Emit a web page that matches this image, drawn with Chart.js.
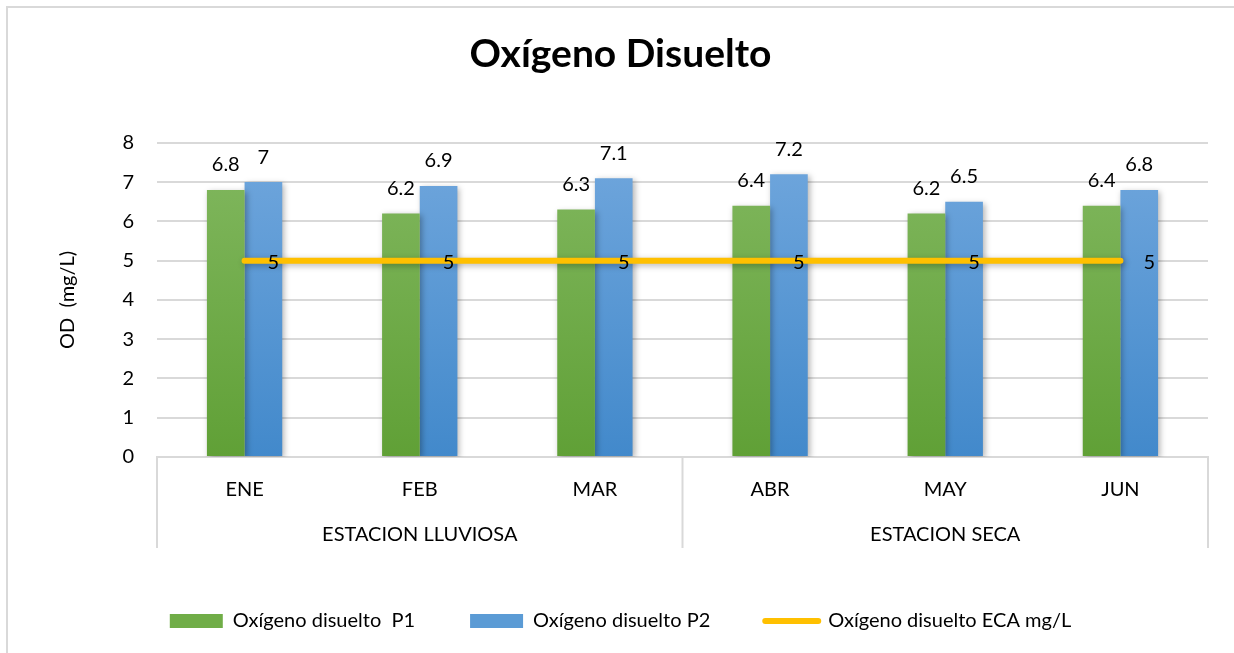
<!DOCTYPE html>
<html lang="es">
<head>
<meta charset="utf-8">
<title>Oxígeno Disuelto</title>
<script src="https://cdn.jsdelivr.net/npm/chart.js@4/dist/chart.umd.min.js"></script>
<style>
    html, body { margin: 0; padding: 0; background: #fff; }
    #wrap { position: relative; width: 1234px; height: 653px; }
</style>
</head>
<body>
<div id="wrap"><canvas id="chart-od"></canvas></div>
<script>
// datos
const meses = ['ENE', 'FEB', 'MAR', 'ABR', 'MAY', 'JUN'];
const estaciones = ['ESTACION LLUVIOSA', 'ESTACION SECA'];
const mesesPorEstacion = [3, 3];
const odP1 = [6.8, 6.2, 6.3, 6.4, 6.2, 6.4];
const odP2 = [7, 6.9, 7.1, 7.2, 6.5, 6.8];
const odEca = [5, 5, 5, 5, 5, 5];
const yMin = 0;
const yMax = 8;

const FUENTE = "'Lato', 'Noto Sans', sans-serif";
const GRIS = '#d9d9d9';

// degradado vertical tipo Excel
function degradado(arriba, abajo) {
    return (context) => {
        const area = context.chart.chartArea;
        if (!area) return abajo;
        const g = context.chart.ctx.createLinearGradient(0, area.top, 0, area.bottom);
        g.addColorStop(0, arriba);
        g.addColorStop(1, abajo);
        return g;
    };
}

// fondo blanco + marco gris del área del gráfico
const marco = {
    id: 'marco',
    beforeDraw(chart) {
        const ctx = chart.ctx;
        ctx.save();
        ctx.fillStyle = '#fff';
        ctx.fillRect(0, 0, chart.width, chart.height);
        ctx.strokeStyle = GRIS;
        ctx.lineWidth = 2;
        ctx.strokeRect(7, 7, chart.width + 50, chart.height + 50);
        ctx.restore();
    }
};

// sombra suave en barras y línea
const sombra = {
    id: 'sombra',
    beforeDatasetDraw(chart) {
        const ctx = chart.ctx;
        ctx.save();
        ctx.shadowColor = 'rgba(0, 0, 0, 0.3)';
        ctx.shadowBlur = 6;
        ctx.shadowOffsetX = 2;
        ctx.shadowOffsetY = 2;
    },
    afterDatasetDraw(chart) {
        chart.ctx.restore();
    }
};

// etiquetas de valor
const etiquetas = {
    id: 'etiquetas',
    afterDatasetsDraw(chart) {
        const ctx = chart.ctx;
        ctx.save();
        ctx.font = `20px ${FUENTE}`;
        ctx.fillStyle = '#000';
        ctx.textBaseline = 'middle';
        chart.data.datasets.forEach((ds, i) => {
            const meta = chart.getDatasetMeta(i);
            meta.data.forEach((el, j) => {
                const txt = String(ds.data[j]);
                if (ds.type === 'line') {
                    ctx.textAlign = 'left';
                    ctx.fillText(txt, el.x + 23, el.y + 2);
                } else {
                    ctx.textAlign = 'center';
                    ctx.fillText(txt, el.x, el.y - 25);
                }
            });
        });
        ctx.restore();
    }
};

// segundo nivel del eje de categorías (estaciones)
const ejeEstaciones = {
    id: 'ejeEstaciones',
    afterDraw(chart) {
        const x = chart.scales.x;
        const base = chart.chartArea.bottom;
        const ctx = chart.ctx;
        ctx.save();
        ctx.strokeStyle = GRIS;
        ctx.lineWidth = 2;
        ctx.font = `20px ${FUENTE}`;
        ctx.fillStyle = '#000';
        ctx.textAlign = 'center';
        ctx.textBaseline = 'middle';
        let inicio = 0;
        const bordes = [x.getPixelForValue(-0.5)];
        estaciones.forEach((nombre, k) => {
            const fin = inicio + mesesPorEstacion[k];
            const izq = x.getPixelForValue(inicio - 0.5);
            const der = x.getPixelForValue(fin - 0.5);
            bordes.push(der);
            ctx.fillText(nombre, (izq + der) / 2, base + 78);
            inicio = fin;
        });
        bordes.forEach(px => {
            ctx.beginPath();
            ctx.moveTo(px, base);
            ctx.lineTo(px, base + 91);
            ctx.stroke();
        });
        ctx.restore();
    }
};

new Chart(document.getElementById('chart-od').getContext('2d'), {
    data: {
        labels: meses,
        datasets: [
            {
                type: 'bar',
                label: 'Oxígeno disuelto  P1',
                data: odP1,
                backgroundColor: degradado('#82b860', '#60a036'),
                order: 1
            },
            {
                type: 'bar',
                label: 'Oxígeno disuelto P2',
                data: odP2,
                backgroundColor: degradado('#71a7dd', '#4289cb'),
                order: 1
            },
            {
                type: 'line',
                label: 'Oxígeno disuelto ECA mg/L',
                data: odEca,
                borderColor: '#FFC000',
                backgroundColor: '#FFC000',
                borderWidth: 6,
                borderCapStyle: 'round',
                pointRadius: 0,
                pointHoverRadius: 0,
                order: 0
            }
        ]
    },
    options: {
        responsive: true,
        maintainAspectRatio: false,
        animation: false,
        layout: { padding: { left: 7, right: 0, top: 0, bottom: 12 } },
        datasets: {
            bar: { barPercentage: 1, categoryPercentage: 0.43 }
        },
        scales: {
            x: {
                offset: true,
                grid: { display: false },
                border: { display: true, color: GRIS, width: 2 },
                ticks: {
                    color: '#000',
                    padding: 13,
                    font: { family: FUENTE, size: 20 }
                },
                afterFit(scale) { scale.height = 99; }
            },
            y: {
                min: yMin,
                max: yMax,
                ticks: {
                    stepSize: 1,
                    color: '#000',
                    padding: 23,
                    font: { family: FUENTE, size: 20 }
                },
                grid: { color: GRIS, lineWidth: 2, drawTicks: false },
                border: { display: false },
                title: {
                    display: true,
                    text: 'OD  (mg/L)',
                    color: '#000',
                    padding: { top: 49, bottom: 0 },
                    font: { family: FUENTE, size: 20 }
                },
                afterFit(scale) { scale.width = 150; }
            },
            yDer: {
                position: 'right',
                display: true,
                grid: { display: false },
                border: { display: false },
                ticks: { display: false },
                afterFit(scale) { scale.width = 26; }
            }
        },
        plugins: {
            title: {
                display: true,
                text: 'Oxígeno Disuelto',
                color: '#000',
                font: { family: FUENTE, size: 39, weight: 'bold' },
                padding: { top: 31, bottom: 65 }
            },
            legend: {
                position: 'bottom',
                labels: {
                    color: '#000',
                    font: { family: FUENTE, size: 20 },
                    usePointStyle: true,
                    pointStyleWidth: 53,
                    boxHeight: 14,
                    padding: 55,
                    sort: (a, b) => a.datasetIndex - b.datasetIndex,
                    generateLabels(chart) {
                        const items = Chart.defaults.plugins.legend.labels.generateLabels(chart);
                        return items.map(it => {
                            const ds = chart.data.datasets[it.datasetIndex];
                            if (ds.type === 'line') {
                                it.pointStyle = 'line';
                                it.lineWidth = 6;
                                it.strokeStyle = '#FFC000';
                                it.lineCap = 'round';
                            } else {
                                it.pointStyle = 'rect';
                                it.lineWidth = 0;
                                it.fillStyle = it.datasetIndex === 0 ? '#70ad47' : '#5b9bd5';
                            }
                            return it;
                        });
                    }
                }
            },
            tooltip: { enabled: false }
        }
    },
    plugins: [marco, sombra, etiquetas, ejeEstaciones]
});
</script>
</body>
</html>
